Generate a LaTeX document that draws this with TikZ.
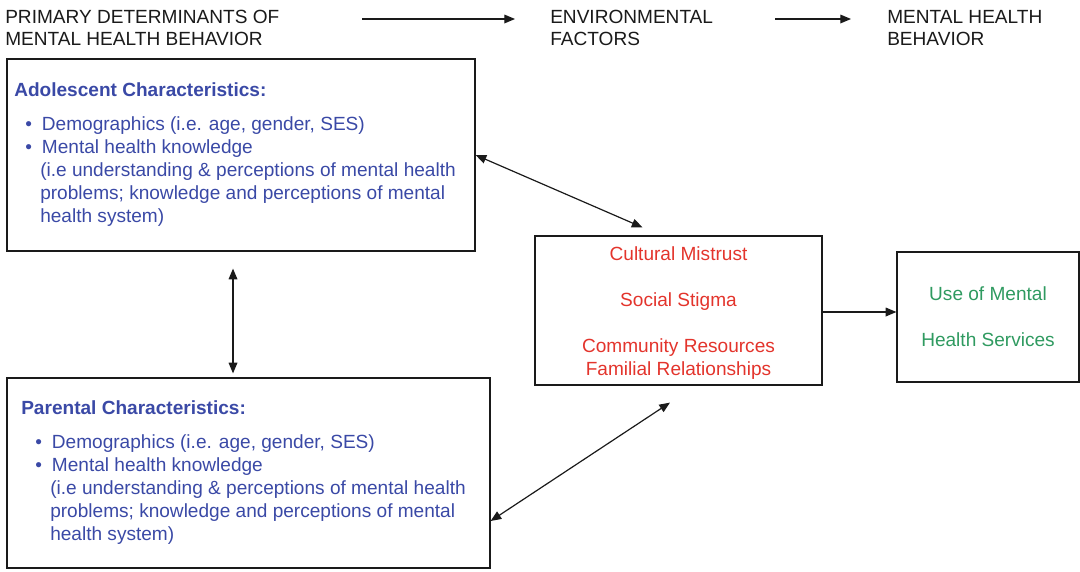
\documentclass[tikz,border=0pt]{standalone}
\usepackage{fontspec}
\setmainfont{Liberation Sans}
\usetikzlibrary{positioning, arrows.meta, calc}
\definecolor{cText}{HTML}{1A1A1A}
\definecolor{cAdol}{HTML}{3A49A6}
\definecolor{cEnv} {HTML}{E3342C}
\definecolor{cUse} {HTML}{2F9A60}

\begin{document}
\begin{tikzpicture}[x=0.75pt, y=-0.75pt,
    box/.style={draw=cText, line width=0.9pt, inner sep=0pt},
    body/.style={font=\fontsize{14.3}{17.25}\selectfont, inner sep=0pt},
    head/.style={font=\fontsize{14.3}{16.5}\selectfont, inner sep=0pt, text=cText, anchor=west, align=left},
    link/.style={line width=0.9pt, draw=cText, -{Triangle[length=8pt,width=6.5pt]}},
    twoway/.style={link, {Triangle[length=8pt,width=6.5pt]}-{Triangle[length=8pt,width=6.5pt]}},
  ]
  \useasboundingbox (0,0) rectangle (1080,571);

  % column headings
  \node[head] (primH) at (5,28) {PRIMARY DETERMINANTS OF\\MENTAL HEALTH BEHAVIOR};
  \node[head] (envH) at (550,28) {ENVIRONMENTAL\\FACTORS};
  \node[head] (behH) at (887,28) {MENTAL HEALTH\\BEHAVIOR};
  \coordinate (h1a) at (362,19);
  \coordinate (h1b) at (515,19);
  \coordinate (h2a) at (775,19);
  \coordinate (h2b) at (851,19);
  \draw[link] (h1a) -- (h1b);
  \draw[link] (h2a) -- (h2b);

  % boxes
  \node[box, minimum width=351pt, minimum height=144pt] (adol) at (241,155) {};
  \node[box, minimum width=362.25pt, minimum height=142.5pt] (parent) at (248.5,473) {};
  \node[box, minimum width=215.25pt, minimum height=111.75pt] (env) at (678.5,310.5) {};
  \node[box, minimum width=136.5pt, minimum height=97.5pt] (use) at (988,317) {};

  % adolescent characteristics
  \node[body, text=cAdol, anchor=north west, align=left] (adolText) at (14,82) {%
    \textbf{Adolescent Characteristics:}\\[8.25pt]
    \hspace*{8.25pt}\textbullet\hspace*{7.5pt}Demographics (i.e. age, gender, SES)\\
    \hspace*{8.25pt}\textbullet\hspace*{7.5pt}Mental health knowledge\\
    \hspace*{19.5pt}(i.e understanding \& perceptions of mental health\\
    \hspace*{19.5pt}problems; knowledge and perceptions of mental\\
    \hspace*{19.5pt}health system)};

  % parental characteristics
  \node[body, text=cAdol, anchor=north west, align=left] (parentText) at (21,400) {%
    \textbf{Parental Characteristics:}\\[8.25pt]
    \hspace*{10.5pt}\textbullet\hspace*{7.5pt}Demographics (i.e. age, gender, SES)\\
    \hspace*{10.5pt}\textbullet\hspace*{7.5pt}Mental health knowledge\\
    \hspace*{21.75pt}(i.e understanding \& perceptions of mental health\\
    \hspace*{21.75pt}problems; knowledge and perceptions of mental\\
    \hspace*{21.75pt}health system)};

  % environmental factors
  \node[body, text=cEnv, align=center] (envText) at ($(env.center)+(0,3)$) {%
    Cultural Mistrust\\[17.25pt]
    Social Stigma\\[17.25pt]
    Community Resources\\
    Familial Relationships};

  % outcome
  \node[body, text=cUse, align=center] (useText) at (use.center) {%
    Use of Mental\\[17.25pt]
    Health Services};

  % connectors
  \draw[twoway] (adol.east) -- ($(env.north)+(-36,-8)$);
  \draw[twoway] ($(adol.south)+(-8,17)$) -- ($(parent.north)+(-15.5,-4)$);
  \draw[twoway] ($(parent.east)+(0,48)$) -- ($(env.south)+(-8.5,17)$);
  \draw[link] ($(env.east)+(0,1.5)$) -- ($(env.east -| use.west)+(0,1.5)$);
\end{tikzpicture}
\end{document}
